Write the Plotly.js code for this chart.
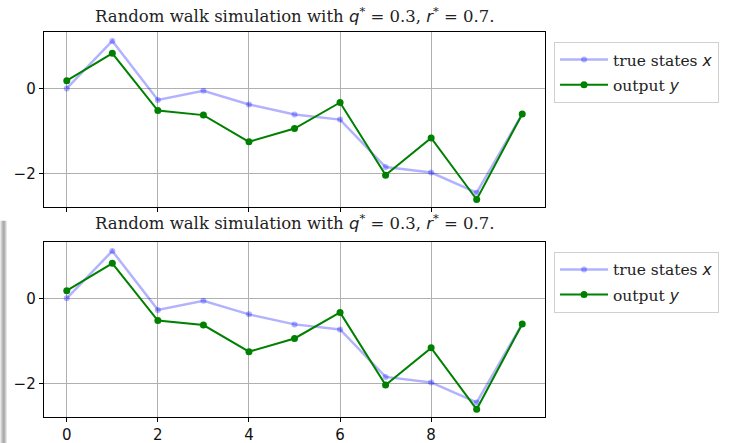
<!DOCTYPE html>
<html>
<head>
<meta charset="utf-8">
<script src="https://cdn.plot.ly/plotly-3.0.1.min.js"></script>
<style>html,body{margin:0;padding:0;background:#fff;}#chart{width:730px;height:443px;}</style>
</head>
<body>
<div id="chart"></div>
<script>
const steps = [0, 1, 2, 3, 4, 5, 6, 7, 8, 9, 10];
const trueStates = [0.0, 1.11, -0.27, -0.055, -0.375, -0.61, -0.73, -1.84, -1.97, -2.44, -0.6];
const outputY = [0.18, 0.82, -0.52, -0.625, -1.25, -0.94, -0.33, -2.03, -1.16, -2.6, -0.6];
const xTicks = [0, 2, 4, 6, 8];
const yTicks = [0, -2];
const yTickLabels = ['0', '\u22122'];

const mathSpan = s => '<span style="font-family:DejaVu Sans;font-style:italic">' + s + '</span>';
const titleText = 'Random walk simulation with ' + mathSpan('q') + '<sup>*</sup> = 0.3, ' + mathSpan('r') + '<sup>*</sup> = 0.7.';
const serif = 'DejaVu Serif, Liberation Serif, serif';

function traces(xa, ya, leg) {
  return [
    {x: steps, y: trueStates, xaxis: xa, yaxis: ya, legend: leg, legendgroup: leg + 'a',
     name: 'true states ' + mathSpan('x'),
     mode: 'lines+markers', line: {color: 'rgba(0,0,255,0.3)', width: 2.5},
     marker: {color: 'rgba(0,0,255,0.3)', size: 6}},
    {x: steps, y: outputY, xaxis: xa, yaxis: ya, legend: leg, legendgroup: leg + 'b',
     name: 'output ' + mathSpan('y'),
     mode: 'lines+markers', line: {color: '#008000', width: 2},
     marker: {color: '#008000', size: 7}}
  ];
}

const data = traces('x', 'y', 'legend').concat(traces('x2', 'y2', 'legend2'));

const axisBase = {
  range: [-0.5, 10.5], showgrid: true, gridcolor: '#b0b0b0', gridwidth: 1,
  zeroline: false, showline: true, mirror: true, linecolor: '#000', linewidth: 1.3,
  ticks: 'outside', ticklen: 4, tickcolor: '#000', tickfont: {family: 'DejaVu Sans', size: 15, color: '#111'}
};
const xAx = Object.assign({}, axisBase, {tickvals: xTicks, ticktext: xTicks.map(String)});
const yAx = Object.assign({}, axisBase, {range: [-2.78, 1.32], tickvals: yTicks, ticktext: yTickLabels});

const legendBase = {
  xref: 'paper', yref: 'paper', xanchor: 'left', yanchor: 'top', x: 1.016,
  bgcolor: '#fff', bordercolor: '#d0d0d0', borderwidth: 1, itemwidth: 48,
  traceorder: 'grouped', tracegroupgap: 2, entrywidth: 185,
  font: {family: serif, size: 15.5, color: '#222'}
};

const grey = ['#e4e4e4', '#cccccc', '#b4b4b4', '#a4a4a4', '#acacac', '#c8c8c8', '#e6e6e6'];
const shapes = grey.map((c, i) => ({
  type: 'rect', xref: 'paper', yref: 'paper', layer: 'below',
  x0: (i - 44) / 502, x1: (i + 1 - 44) / 502,
  y0: -0.07, y1: 0.51, fillcolor: c, line: {width: 0}
}));

const layout = {
  width: 730, height: 443,
  margin: {l: 44, r: 184, t: 32, b: 26},
  paper_bgcolor: '#fff', plot_bgcolor: '#fff',
  showlegend: true,
  xaxis: Object.assign({}, xAx, {anchor: 'y', showticklabels: false}),
  yaxis: Object.assign({}, yAx, {domain: [0.545, 1], anchor: 'x'}),
  xaxis2: Object.assign({}, xAx, {anchor: 'y2'}),
  yaxis2: Object.assign({}, yAx, {domain: [0, 0.4545], anchor: 'x2'}),
  legend: Object.assign({}, legendBase, {y: 0.974}),
  legend2: Object.assign({}, legendBase, {y: 0.429}),
  shapes: shapes,
  annotations: [
    {text: titleText, xref: 'paper', yref: 'paper', x: 0.5, y: 1, yanchor: 'bottom', yshift: 4,
     showarrow: false, font: {family: serif, size: 16.5, color: '#222'}},
    {text: titleText, xref: 'paper', yref: 'paper', x: 0.5, y: 0.4545, yanchor: 'bottom', yshift: 7,
     showarrow: false, font: {family: serif, size: 16.5, color: '#222'}}
  ]
};

Plotly.newPlot('chart', data, layout, {displayModeBar: false, staticPlot: true});
</script>
</body>
</html>
